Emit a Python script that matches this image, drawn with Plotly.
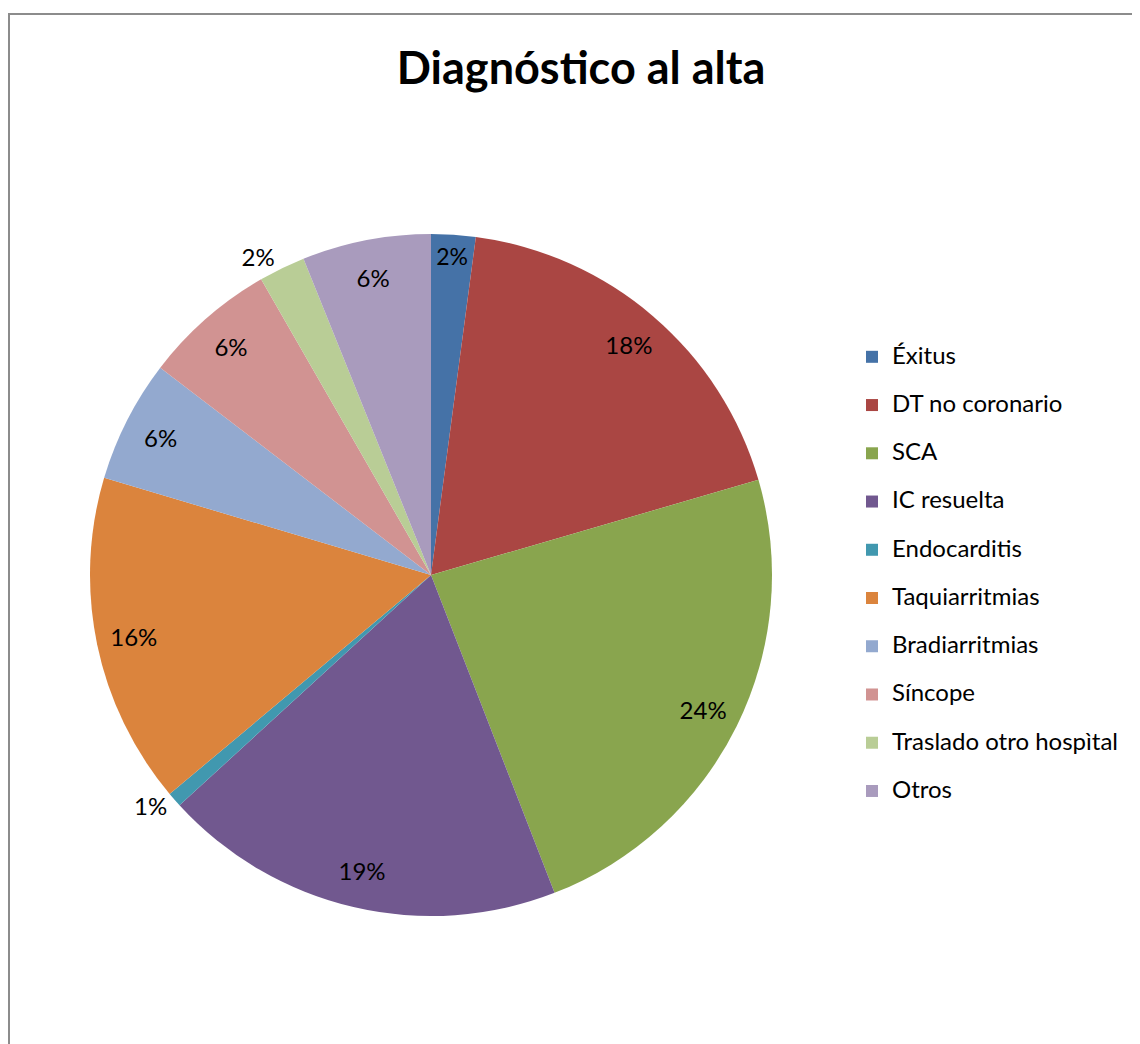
import plotly.graph_objects as go

# data (share of discharges, %)
labels = ["Éxitus", "DT no coronario", "SCA", "IC resuelta", "Endocarditis",
          "Taquiarritmias", "Bradiarritmias", "Síncope", "Traslado otro hospìtal", "Otros"]
values = [2.1, 18.4, 23.6, 19.1, 0.7, 15.7, 5.8, 6.3, 2.2, 6.1]
colors = ["#4572A7", "#AA4643", "#89A54E", "#71588F", "#4198AF",
          "#DB843D", "#93A9CF", "#D19392", "#B9CD96", "#A99BBD"]
# which labels sit outside the pie (the rest are drawn inside, near the rim)
outside = [False, False, False, False, True, False, False, False, True, False]

W, H = 1160, 1060
FONT = "Lato, 'Open Sans', sans-serif"

# pie centre / radius in figure pixels
cx, cy, r = 423, 567, 341
dom = dict(x=[(cx - r) / W, (cx + r) / W],
           y=[1 - (cy + r) / H, 1 - (cy - r) / H])

# legend: small base font sets row spacing, visible text via span
leg_labels = ['<span style="font-size:24px">%s</span><br> ' % s for s in labels]

fig = go.Figure()
# the slices (+ the outside labels)
fig.add_trace(go.Pie(labels=leg_labels,
                     values=values,
                     sort=False,
                     direction='clockwise',
                     rotation=0,
                     marker=dict(colors=colors, line=dict(width=0)),
                     texttemplate='%{percent:.0%}',
                     textposition=['outside' if o else 'none' for o in outside],
                     textfont=dict(family=FONT, size=24, color='black'),
                     hoverinfo='skip',
                     domain=dom))
# transparent ring on top, only to put the inside labels out near the rim
fig.add_trace(go.Pie(labels=leg_labels,
                     values=values,
                     sort=False,
                     direction='clockwise',
                     rotation=0,
                     hole=0.78,
                     marker=dict(colors=['rgba(0,0,0,0)'] * len(values),
                                 line=dict(width=0)),
                     texttemplate='%{percent:.0%}',
                     textposition=['none' if o else 'inside' for o in outside],
                     insidetextorientation='horizontal',
                     textfont=dict(family=FONT, size=24, color='black'),
                     hoverinfo='skip',
                     showlegend=False,
                     domain=dom))

# chart frame
fig.add_shape(type='rect', xref='paper', yref='paper',
              x0=1 / W, x1=1.2, y0=-0.2, y1=1 - 6 / H,
              line=dict(color='#8c8c8c', width=2), fillcolor='rgba(0,0,0,0)')

fig.update_layout(title=dict(text='<b>Diagnóstico al alta</b>',
                             xref='container', yref='container',
                             x=573 / W, y=1 - 60 / H,
                             xanchor='center', yanchor='middle',
                             font=dict(family=FONT, size=45, color='black')),
                  legend=dict(xref='container', yref='container',
                              x=844 / W, y=1 - 331 / H,
                              xanchor='left', yanchor='top',
                              valign='top',
                              font=dict(family=FONT, size=17.4, color='black'),
                              bgcolor='rgba(0,0,0,0)'),
                  width=W,
                  height=H,
                  paper_bgcolor='white',
                  plot_bgcolor='white',
                  margin=dict(t=0, b=0, l=0, r=0, autoexpand=False))

fig.write_html("out.html")
